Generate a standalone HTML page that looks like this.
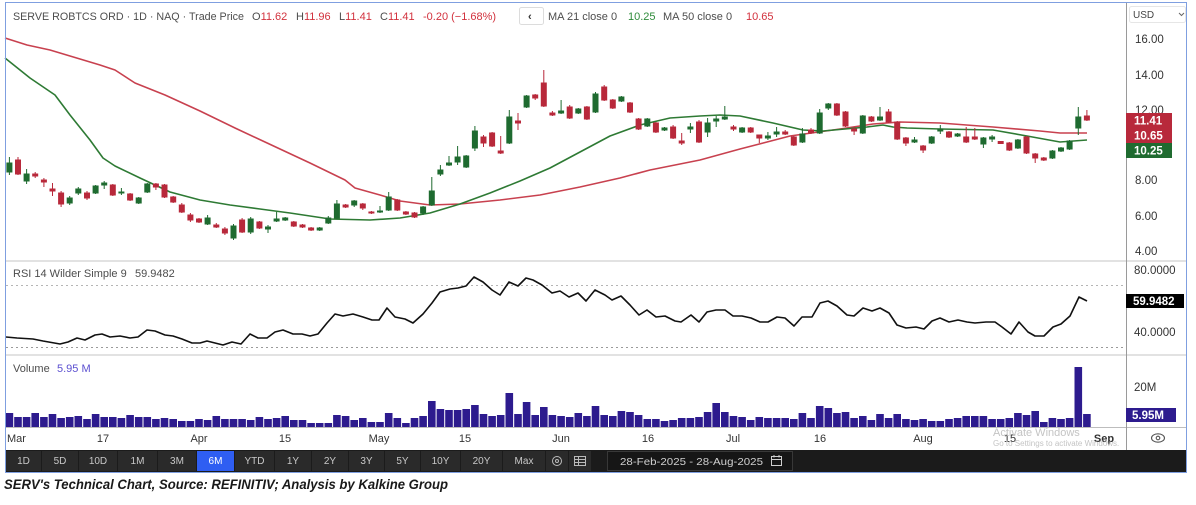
<!DOCTYPE html>
<html><head><meta charset="utf-8"><style>
html,body{margin:0;padding:0;background:#fff;}
svg{display:block;font-family:"Liberation Sans",Arial,sans-serif;}
</style></head><body>
<svg width="1196" height="505" viewBox="0 0 1196 505" xmlns="http://www.w3.org/2000/svg">
<rect x="0" y="0" width="1196" height="505" fill="#fff"/>

<!-- header -->
<g font-size="11" fill="#4d4d4d">
<text x="13" y="20" textLength="231" lengthAdjust="spacingAndGlyphs">SERVE ROBTCS ORD · 1D · NAQ · Trade Price</text>
<text x="252" y="20">O<tspan fill="#d2313d">11.62</tspan></text>
<text x="296" y="20">H<tspan fill="#d2313d">11.96</tspan></text>
<text x="339" y="20">L<tspan fill="#d2313d">11.41</tspan></text>
<text x="380" y="20">C<tspan fill="#d2313d">11.41</tspan></text>
<text x="423" y="20" fill="#d2313d">-0.20 (−1.68%)</text>
<rect x="519.5" y="7.5" width="24" height="17" rx="2" fill="#fff" stroke="#dcdcdc"/>
<text x="528" y="20" font-weight="bold" fill="#333">‹</text>
<text x="548" y="20">MA 21 close 0</text>
<text x="628" y="20" fill="#2e8b3a">10.25</text>
<text x="663" y="20">MA 50 close 0</text>
<text x="746" y="20" fill="#d2313d">10.65</text>
</g>

<!-- USD box -->
<rect x="1129.5" y="6.5" width="56" height="16" rx="2" fill="#fff" stroke="#e6e6e6"/>
<text x="1133" y="18" font-size="10" fill="#444">USD</text>
<path d="M1179 13l2.5 2.5 2.5-2.5" fill="none" stroke="#666" stroke-width="1"/>

<!-- separators -->
<rect x="5" y="260" width="1182" height="2" fill="#e2e2e2"/>
<rect x="5" y="354" width="1182" height="2" fill="#e2e2e2"/>
<line x1="5" y1="427.5" x2="1187" y2="427.5" stroke="#bdbdbd" stroke-width="1"/>
<line x1="1126.5" y1="3" x2="1126.5" y2="450" stroke="#9a9a9a" stroke-width="1"/>

<!-- price axis labels -->
<g font-size="11.5" fill="#333">
<text x="1135" y="43">16.00</text>
<text x="1135" y="79">14.00</text>
<text x="1135" y="114">12.00</text>
<text x="1135" y="184">8.00</text>
<text x="1135" y="220">6.00</text>
<text x="1135" y="255">4.00</text>
</g>

<!-- MA lines -->
<polyline fill="none" stroke="#c8414f" stroke-width="1.6" stroke-linejoin="round" points="5,38 27,45 50,50 70,56 100,65 115,70 135,83 165,95 200,111 235,128 265,142 310,163 345,180 355,188 380,195 400,201 430,205 460,204 500,200 540,195 580,187 620,178 650,170 700,160 740,149 790,136 840,129 873,124 900,122 940,123 993,127 1040,131 1060,133 1087,133"/>
<polyline fill="none" stroke="#2e7a34" stroke-width="1.6" stroke-linejoin="round" points="5,58 30,78 55,95 70,115 90,140 103,158 115,166 140,178 170,192 200,200 230,205 260,209 290,213 330,219 370,220 400,218 430,213 460,204 490,193 520,181 550,168 580,152 610,136 640,125 670,118 700,116 720,115 740,116 773,123 803,130 823,131 867,127 883,125 893,127 907,128 940,129 993,130 1027,136 1060,142 1087,140"/>

<!-- green candles -->
<path fill="#1f6b30" stroke="#1f6b30" stroke-width="1" d="M9.4 157V175M6.9 163h5v9h-5z M26.6 169V184M24.1 174h5v7h-5z M69.7 196V205M67.2 198h5v5h-5z M78.3 187V195M75.8 189h5v4h-5z M95.6 185V194M93.1 186h5v7h-5z M104.2 181V189M101.7 183h5v2h-5z M121.4 188V195M118.9 192h5v1h-5z M138.7 197V204M136.2 198h5v5h-5z M147.3 183V193M144.8 184h5v8h-5z M207.6 215V225M205.1 218h5v6h-5z M233.5 224V240M231 226h5v12h-5z M250.7 217V234M248.2 219h5v13h-5z M268 225V233M265.5 227h5v2h-5z M276.6 212V222M274.1 219h5v2h-5z M285.2 217V221M282.7 218h5v2h-5z M319.7 227V231M317.2 228h5v2h-5z M328.3 216V224M325.8 218h5v5h-5z M336.9 200V219M334.4 204h5v14h-5z M354.2 200V207M351.7 201h5v4h-5z M380 206V213M377.5 211h5v1h-5z M388.7 192V211M386.2 197h5v13h-5z M423.1 206V215M420.6 207h5v6h-5z M431.8 177V206M429.3 191h5v14h-5z M440.4 165V176M437.9 170h5v4h-5z M449 156V166M446.5 163h5v2h-5z M457.6 146V165M455.1 157h5v5h-5z M466.2 155V168M463.7 156h5v11h-5z M474.9 126V151M472.4 131h5v17h-5z M509.3 110V144M506.8 117h5v26h-5z M526.6 95V108M524.1 96h5v11h-5z M561.1 100V114M558.6 111h5v2h-5z M578.3 108V114M575.8 109h5v4h-5z M595.5 92V113M593 94h5v18h-5z M621.4 96V102M618.9 97h5v4h-5z M647.3 118V127M644.8 119h5v7h-5z M664.5 127V131M662 128h5v2h-5z M690.4 123V133M687.9 127h5v2h-5z M707.6 118V137M705.1 123h5v9h-5z M716.2 116V127M713.7 119h5v2h-5z M724.8 106V120M722.3 117h5v2h-5z M742.1 127V133M739.6 128h5v4h-5z M767.9 132V140M765.4 136h5v2h-5z M776.6 127V137M774.1 132h5v2h-5z M802.4 128V143M799.9 134h5v8h-5z M819.7 109V134M817.2 113h5v20h-5z M828.3 103V110M825.8 104h5v4h-5z M862.8 115V134M860.3 116h5v17h-5z M880 107V121M877.5 117h5v3h-5z M914.5 137V143M912 140h5v2h-5z M931.7 136V144M929.2 137h5v6h-5z M940.3 125V134M937.8 129h5v2h-5z M957.6 133V137M955.1 134h5v2h-5z M983.4 137V148M980.9 138h5v6h-5z M992.1 135V142M989.6 137h5v2h-5z M1017.9 139V149M1015.4 140h5v8h-5z M1052.4 150V159M1049.9 151h5v7h-5z M1061 147V152M1058.5 148h5v3h-5z M1069.6 140V150M1067.1 141h5v8h-5z M1078.3 107V135M1075.8 117h5v11h-5z"/>

<!-- red candles -->
<path fill="#b8293b" stroke="#b8293b" stroke-width="1" d="M18 157V175M15.5 160h5v14h-5z M35.2 172V178M32.7 174h5v2h-5z M43.9 178V187M41.4 180h5v2h-5z M52.5 183V196M50 189h5v2h-5z M61.1 191V207M58.6 193h5v11h-5z M87 191V200M84.5 193h5v5h-5z M112.8 184V196M110.3 185h5v10h-5z M130.1 193V201M127.6 194h5v6h-5z M155.9 183V190M153.4 184h5v3h-5z M164.5 184V198M162 185h5v12h-5z M173.2 196V203M170.7 197h5v5h-5z M181.8 203V213M179.3 205h5v7h-5z M190.4 213V222M187.9 215h5v5h-5z M199 218V223M196.5 219h5v3h-5z M216.3 223V228M213.8 225h5v2h-5z M224.9 227V235M222.4 229h5v4h-5z M242.1 218V233M239.6 220h5v12h-5z M259.4 221V229M256.9 222h5v6h-5z M293.8 221V227M291.3 222h5v4h-5z M302.5 224V228M300 225h5v2h-5z M311.1 227V231M308.6 228h5v2h-5z M345.6 204V208M343.1 205h5v2h-5z M362.8 203V210M360.3 204h5v4h-5z M371.4 211V214M368.9 212h5v1h-5z M397.3 199V211M394.8 200h5v10h-5z M405.9 211V215M403.4 212h5v2h-5z M414.5 212V218M412 213h5v4h-5z M483.5 135V147M481 137h5v6h-5z M492.1 132V147M489.6 133h5v13h-5z M500.7 136V154M498.2 151h5v2h-5z M518 113V130M515.5 121h5v2h-5z M535.2 94V100M532.7 95h5v3h-5z M543.8 70V107M541.3 83h5v23h-5z M552.4 111V116M549.9 113h5v2h-5z M569.7 105V119M567.2 107h5v11h-5z M586.9 106V120M584.4 107h5v12h-5z M604.2 85V101M601.7 87h5v13h-5z M612.8 99V109M610.3 100h5v8h-5z M630 102V113M627.5 103h5v9h-5z M638.6 118V130M636.1 119h5v10h-5z M655.9 122V133M653.4 123h5v9h-5z M673.1 125V139M670.6 127h5v11h-5z M681.7 133V145M679.2 141h5v2h-5z M699 120V143M696.5 122h5v20h-5z M733.5 125V131M731 127h5v2h-5z M750.7 127V133M748.2 128h5v4h-5z M759.3 135V143M756.8 135h5v3h-5z M785.2 130V135M782.7 132h5v2h-5z M793.8 136V146M791.3 137h5v8h-5z M811 128V134M808.5 130h5v3h-5z M836.9 103V116M834.4 104h5v11h-5z M845.5 111V127M843 112h5v14h-5z M854.1 127V135M851.6 129h5v2h-5z M871.4 116V122M868.9 117h5v4h-5z M888.6 109V123M886.1 112h5v10h-5z M897.2 121V140M894.7 122h5v17h-5z M905.9 137V146M903.4 138h5v5h-5z M923.1 145V153M920.6 146h5v4h-5z M949 131V138M946.5 132h5v5h-5z M966.2 127V143M963.7 137h5v5h-5z M974.8 128V140M972.3 137h5v2h-5z M1000.7 141V144M998.2 141.5h5v2h-5z M1009.3 142V151M1006.8 143h5v7h-5z M1026.5 136V154M1024 137h5v16h-5z M1035.2 153V163M1032.7 154h5v4h-5z M1043.8 157V161M1041.3 158h5v2h-5z M1086.9 110V121M1084.4 116h5v4h-5z"/>

<!-- price tags -->
<rect x="1126" y="113" width="46" height="15" fill="#b8293b"/>
<rect x="1126" y="128" width="46" height="15" fill="#b8293b"/>
<rect x="1126" y="143" width="46" height="15" fill="#1f6b30"/>
<g font-size="11.5" font-weight="bold" fill="#fff">
<text x="1134" y="124.5">11.41</text>
<text x="1134" y="139.5">10.65</text>
<text x="1134" y="154.5">10.25</text>
</g>

<!-- RSI panel -->
<text x="13" y="277" font-size="11" fill="#4d4d4d">RSI 14 Wilder Simple 9 <tspan x="135">59.9482</tspan></text>
<line x1="6" y1="285.5" x2="1126" y2="285.5" stroke="#b5b5b5" stroke-dasharray="2,3"/>
<line x1="6" y1="347.5" x2="1126" y2="347.5" stroke="#9a9a9a" stroke-dasharray="2,3"/>
<polyline fill="none" stroke="#111" stroke-width="1.6" stroke-linejoin="round" points="6,337 17,338 33,339 43,341 60,344 68,342 77,338 85,340 95,335 102,334 110,337 120,336 130,338 138,337 147,330 155,331 165,335 173,336 182,339 192,343 200,343 207,341 215,343 223,345 232,342 241,344 250,334 258,338 267,338 275,332 283,330 293,334 302,334 310,336 318,334 327,323 335,314 343,316 353,314 363,317 372,320 379,320 387,308 395,317 405,319 413,323 423,314 432,303 440,292 450,289 458,288 466,286 474,277 483,282 492,290 500,295 509,282 518,286 526,278 533,280 542,285 552,293 560,291 569,297 578,293 586,301 595,290 605,295 612,300 621,296 630,305 639,315 647,310 656,317 665,316 675,321 681,322 691,315 699,322 707,312 716,310 725,310 733,316 742,316 751,318 760,322 768,322 777,317 785,318 794,326 802,317 812,317 820,303 828,301 837,306 847,315 854,316 863,308 872,311 880,308 889,313 897,325 906,328 916,327 924,329 932,321 940,318 949,322 958,320 967,322 975,323 986,322 995,322 1002,327 1011,334 1019,322 1028,332 1035,336 1044,336 1053,327 1061,324 1070,316 1079,297 1087,301"/>
<g font-size="11.5" fill="#333">
<text x="1134" y="274">80.0000</text>
<text x="1134" y="336">40.0000</text>
</g>
<rect x="1126" y="294" width="58" height="14" fill="#000"/>
<text x="1133" y="305" font-size="11.5" font-weight="bold" fill="#fff">59.9482</text>

<!-- Volume panel -->
<text x="13" y="372" font-size="11" fill="#4d4d4d">Volume <tspan x="57" fill="#5b4fd0">5.95 M</tspan></text>
<path fill="#2d1b8e" d="M5.6 413h7.6V427h-7.6z M14.2 417h7.6V427h-7.6z M22.8 417h7.6V427h-7.6z M31.4 413h7.6V427h-7.6z M40.1 417h7.6V427h-7.6z M48.7 414h7.6V427h-7.6z M57.3 418h7.6V427h-7.6z M65.9 417h7.6V427h-7.6z M74.5 416h7.6V427h-7.6z M83.2 419h7.6V427h-7.6z M91.8 414h7.6V427h-7.6z M100.4 417h7.6V427h-7.6z M109 417h7.6V427h-7.6z M117.6 418h7.6V427h-7.6z M126.3 415h7.6V427h-7.6z M134.9 417h7.6V427h-7.6z M143.5 417h7.6V427h-7.6z M152.1 419h7.6V427h-7.6z M160.7 418h7.6V427h-7.6z M169.4 419h7.6V427h-7.6z M178 421h7.6V427h-7.6z M186.6 421h7.6V427h-7.6z M195.2 419h7.6V427h-7.6z M203.8 420h7.6V427h-7.6z M212.5 416h7.6V427h-7.6z M221.1 419h7.6V427h-7.6z M229.7 419h7.6V427h-7.6z M238.3 419h7.6V427h-7.6z M246.9 420h7.6V427h-7.6z M255.6 417h7.6V427h-7.6z M264.2 419h7.6V427h-7.6z M272.8 418h7.6V427h-7.6z M281.4 416h7.6V427h-7.6z M290 420h7.6V427h-7.6z M298.7 420h7.6V427h-7.6z M307.3 423h7.6V427h-7.6z M315.9 423h7.6V427h-7.6z M324.5 423h7.6V427h-7.6z M333.1 415h7.6V427h-7.6z M341.8 416h7.6V427h-7.6z M350.4 420h7.6V427h-7.6z M359 418h7.6V427h-7.6z M367.6 422h7.6V427h-7.6z M376.2 422h7.6V427h-7.6z M384.9 413h7.6V427h-7.6z M393.5 418h7.6V427h-7.6z M402.1 423h7.6V427h-7.6z M410.7 418h7.6V427h-7.6z M419.3 416h7.6V427h-7.6z M428 401h7.6V427h-7.6z M436.6 409h7.6V427h-7.6z M445.2 410h7.6V427h-7.6z M453.8 410h7.6V427h-7.6z M462.4 409h7.6V427h-7.6z M471.1 405h7.6V427h-7.6z M479.7 414h7.6V427h-7.6z M488.3 416h7.6V427h-7.6z M496.9 415h7.6V427h-7.6z M505.5 393h7.6V427h-7.6z M514.2 414h7.6V427h-7.6z M522.8 402h7.6V427h-7.6z M531.4 415h7.6V427h-7.6z M540 407h7.6V427h-7.6z M548.6 415h7.6V427h-7.6z M557.3 416h7.6V427h-7.6z M565.9 417h7.6V427h-7.6z M574.5 413h7.6V427h-7.6z M583.1 416h7.6V427h-7.6z M591.7 406h7.6V427h-7.6z M600.4 415h7.6V427h-7.6z M609 416h7.6V427h-7.6z M617.6 411h7.6V427h-7.6z M626.2 412h7.6V427h-7.6z M634.8 415h7.6V427h-7.6z M643.5 419h7.6V427h-7.6z M652.1 419h7.6V427h-7.6z M660.7 421h7.6V427h-7.6z M669.3 420h7.6V427h-7.6z M677.9 418h7.6V427h-7.6z M686.6 418h7.6V427h-7.6z M695.2 417h7.6V427h-7.6z M703.8 412h7.6V427h-7.6z M712.4 403h7.6V427h-7.6z M721 412h7.6V427h-7.6z M729.7 416h7.6V427h-7.6z M738.3 417h7.6V427h-7.6z M746.9 420h7.6V427h-7.6z M755.5 417h7.6V427h-7.6z M764.1 418h7.6V427h-7.6z M772.8 418h7.6V427h-7.6z M781.4 418h7.6V427h-7.6z M790 419h7.6V427h-7.6z M798.6 413h7.6V427h-7.6z M807.2 418h7.6V427h-7.6z M815.9 406h7.6V427h-7.6z M824.5 408h7.6V427h-7.6z M833.1 413h7.6V427h-7.6z M841.7 412h7.6V427h-7.6z M850.3 418h7.6V427h-7.6z M859 416h7.6V427h-7.6z M867.6 420h7.6V427h-7.6z M876.2 414h7.6V427h-7.6z M884.8 418h7.6V427h-7.6z M893.4 414h7.6V427h-7.6z M902.1 419h7.6V427h-7.6z M910.7 420h7.6V427h-7.6z M919.3 419h7.6V427h-7.6z M927.9 421h7.6V427h-7.6z M936.5 421h7.6V427h-7.6z M945.2 419h7.6V427h-7.6z M953.8 418h7.6V427h-7.6z M962.4 416h7.6V427h-7.6z M971 416h7.6V427h-7.6z M979.6 416h7.6V427h-7.6z M988.3 419h7.6V427h-7.6z M996.9 419h7.6V427h-7.6z M1005.5 418h7.6V427h-7.6z M1014.1 413h7.6V427h-7.6z M1022.7 415h7.6V427h-7.6z M1031.4 411h7.6V427h-7.6z M1040 422h7.6V427h-7.6z M1048.6 418h7.6V427h-7.6z M1057.2 419h7.6V427h-7.6z M1065.8 418h7.6V427h-7.6z M1074.5 367h7.6V427h-7.6z M1083.1 414h7.6V427h-7.6z"/>
<text x="1134" y="391" font-size="11.5" fill="#333">20M</text>
<rect x="1126" y="408" width="50" height="14" fill="#2d1b8e"/>
<text x="1132" y="419" font-size="11.5" font-weight="bold" fill="#fff">5.95M</text>

<!-- x axis -->
<g font-size="11" fill="#333" text-anchor="middle">
<text x="7" y="442" text-anchor="start">Mar</text>
<text x="103" y="442">17</text>
<text x="199" y="442">Apr</text>
<text x="285" y="442">15</text>
<text x="379" y="442">May</text>
<text x="465" y="442">15</text>
<text x="561" y="442">Jun</text>
<text x="648" y="442">16</text>
<text x="733" y="442">Jul</text>
<text x="820" y="442">16</text>
<text x="923" y="442">Aug</text>
<text x="1010" y="442">15</text>
<text x="1104" y="442" font-weight="bold">Sep</text>
</g>
<text x="993" y="436" font-size="11" fill="#c4c4c4">Activate Windows</text>
<text x="993" y="446" font-size="8" fill="#c4c4c4">Go to Settings to activate Windows.</text>
<ellipse cx="1158" cy="438" rx="6.5" ry="4.2" fill="none" stroke="#555" stroke-width="1.1"/>
<circle cx="1158" cy="438" r="1.8" fill="none" stroke="#555" stroke-width="1.1"/>

<!-- bottom bar -->
<rect x="5" y="450" width="1182" height="22" fill="#1b1b1b"/>
<g fill="#2a2a2a">
<rect x="6" y="451" width="35" height="20"/><rect x="42" y="451" width="36" height="20"/><rect x="79" y="451" width="38" height="20"/><rect x="118" y="451" width="39" height="20"/><rect x="158" y="451" width="38" height="20"/>
<rect x="235" y="451" width="39" height="20"/><rect x="275" y="451" width="36" height="20"/><rect x="312" y="451" width="36" height="20"/><rect x="349" y="451" width="35" height="20"/><rect x="385" y="451" width="35" height="20"/><rect x="421" y="451" width="39" height="20"/><rect x="461" y="451" width="41" height="20"/><rect x="503" y="451" width="42" height="20"/><rect x="546" y="451" width="22" height="20"/><rect x="569" y="451" width="22" height="20"/>
</g>
<rect x="197" y="451" width="37" height="20" fill="#2f5ef2"/>
<g font-size="10" fill="#c8c8c8" text-anchor="middle">
<text x="23.5" y="464">1D</text><text x="60" y="464">5D</text><text x="98" y="464">10D</text><text x="137.5" y="464">1M</text><text x="177" y="464">3M</text>
<text x="215.5" y="464" fill="#fff">6M</text>
<text x="254.5" y="464">YTD</text><text x="293" y="464">1Y</text><text x="330" y="464">2Y</text><text x="366.5" y="464">3Y</text><text x="402.5" y="464">5Y</text><text x="440.5" y="464">10Y</text><text x="481.5" y="464">20Y</text><text x="524" y="464">Max</text>
</g>
<circle cx="557" cy="461" r="4.5" fill="none" stroke="#bbb" stroke-width="1"/>
<circle cx="557" cy="461" r="1.5" fill="none" stroke="#bbb" stroke-width="1"/>
<rect x="574.5" y="456.5" width="11" height="9" fill="none" stroke="#bbb" stroke-width="1"/>
<path d="M574.5 459.5h11M574.5 462.5h11M578.5 456.5v9" stroke="#bbb" stroke-width="1"/>
<rect x="607.5" y="451.5" width="185" height="19" fill="#161616" stroke="#383838"/>
<text x="620" y="465" font-size="10.5" fill="#cfcfcf" textLength="143" lengthAdjust="spacingAndGlyphs">28-Feb-2025 - 28-Aug-2025</text>
<rect x="771.5" y="456.5" width="10" height="9" fill="none" stroke="#cfcfcf" stroke-width="1"/>
<path d="M771.5 459.5h10M774 455v2.5M779 455v2.5" stroke="#cfcfcf" stroke-width="1"/>

<!-- outer border -->
<rect x="5.5" y="2.5" width="1181" height="470" fill="none" stroke="#7f9fe0" stroke-width="1"/>

<!-- caption -->
<text x="4" y="489" font-size="14" font-weight="bold" font-style="italic" fill="#1a1a1a" textLength="444" lengthAdjust="spacingAndGlyphs">SERV's Technical Chart, Source: REFINITIV; Analysis by Kalkine Group</text>
</svg>
</body></html>
